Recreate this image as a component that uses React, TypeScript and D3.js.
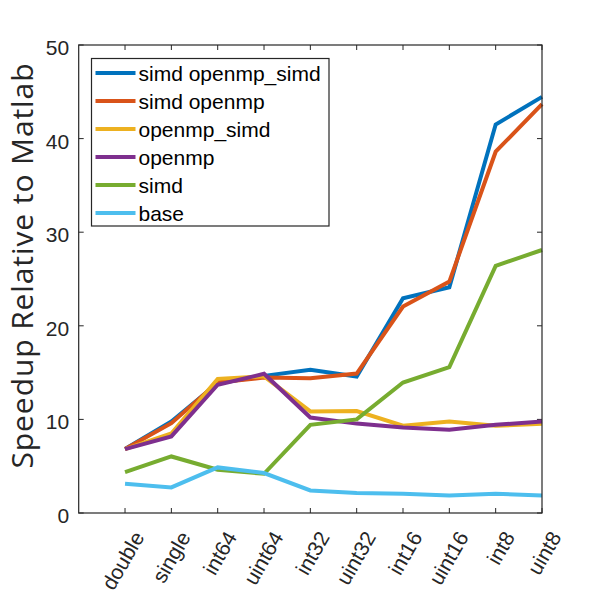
import { useEffect, useRef } from 'react';
import * as d3 from 'd3';

const categories = ['double', 'single', 'int64', 'uint64', 'int32', 'uint32', 'int16', 'uint16', 'int8', 'uint8'];

const seriesNames = ['simd openmp_simd', 'simd openmp', 'openmp_simd', 'openmp', 'simd', 'base'];

const simdOpenmpSimd = [6.83, 9.78, 13.87, 14.65, 15.3, 14.58, 22.94, 24.12, 41.5, 44.46];
const simdOpenmp = [6.83, 9.6, 13.94, 14.47, 14.4, 14.9, 22.05, 24.72, 38.6, 43.68];
const openmpSimd = [6.83, 8.5, 14.33, 14.6, 10.85, 10.9, 9.32, 9.78, 9.32, 9.53];
const openmp = [6.83, 8.18, 13.7, 14.87, 10.2, 9.55, 9.14, 8.89, 9.42, 9.78];
const simd = [4.37, 6.04, 4.62, 4.19, 9.42, 10.0, 13.94, 15.58, 26.4, 28.1];
const base = [3.13, 2.73, 4.87, 4.27, 2.41, 2.13, 2.06, 1.88, 2.06, 1.88];

const yTicks = [0, 10, 20, 30, 40, 50];

const colors = ['#0072BD', '#D95319', '#EDB120', '#7E2F8E', '#77AC30', '#4DBEEE'];

const ChartSvg = () => {
  const ref = useRef<SVGSVGElement | null>(null);

  useEffect(() => {
    if (!ref.current) return;
    const width = 600;
    const height = 600;
    const svg = d3.select(ref.current);
    svg.selectAll('*').remove();
    svg.attr('width', width).attr('height', height).attr('viewBox', `0 0 ${width} ${height}`);

    const margin = { top: 45, right: 58, bottom: 87, left: 78.7 };
    const innerWidth = width - margin.left - margin.right;
    const innerHeight = height - margin.top - margin.bottom;
    const axisColor = '#262626';
    const tickFont = '"Liberation Sans", Arial, sans-serif';

    const g = svg.append('g').attr('transform', `translate(${margin.left},${margin.top})`);

    const x = d3.scaleLinear().domain([0, categories.length]).range([0, innerWidth]);
    const y = d3.scaleLinear().domain([0, 50]).range([innerHeight, 0]);

    const allSeries = [simdOpenmpSimd, simdOpenmp, openmpSimd, openmp, simd, base];

    const line = d3
      .line<number>()
      .x((_, i) => x(i + 1))
      .y((d) => y(d));

    g.append('rect')
      .attr('width', innerWidth)
      .attr('height', innerHeight)
      .attr('fill', '#fff');

    // ticks, inward on all four sides
    const tickLen = 5;
    categories.forEach((_, i) => {
      const px = x(i + 1);
      g.append('line').attr('x1', px).attr('x2', px).attr('y1', innerHeight).attr('y2', innerHeight - tickLen).attr('stroke', axisColor);
      g.append('line').attr('x1', px).attr('x2', px).attr('y1', 0).attr('y2', tickLen).attr('stroke', axisColor);
    });
    yTicks.forEach((t) => {
      const py = y(t);
      g.append('line').attr('x1', 0).attr('x2', tickLen).attr('y1', py).attr('y2', py).attr('stroke', axisColor);
      g.append('line').attr('x1', innerWidth).attr('x2', innerWidth - tickLen).attr('y1', py).attr('y2', py).attr('stroke', axisColor);
      g.append('text')
        .attr('x', -9.5)
        .attr('y', py + 10)
        .attr('text-anchor', 'end')
        .attr('font-family', tickFont)
        .attr('font-size', 21)
        .attr('fill', axisColor)
        .text(t);
    });

    categories.forEach((c, i) => {
      const ax = x(i + 1) + 20;
      const ay = innerHeight + 24;
      g.append('text')
        .attr('transform', `translate(${ax},${ay}) rotate(-60)`)
        .attr('text-anchor', 'end')
        .attr('font-family', tickFont)
        .attr('font-size', 21)
        .attr('fill', axisColor)
        .text(c);
    });

    allSeries.forEach((s, i) => {
      g.append('path')
        .attr('d', line(s) ?? '')
        .attr('fill', 'none')
        .attr('stroke', colors[i])
        .attr('stroke-width', 4)
        .attr('stroke-linejoin', 'miter');
    });

    g.append('rect')
      .attr('width', innerWidth)
      .attr('height', innerHeight)
      .attr('fill', 'none')
      .attr('stroke', axisColor)
      .attr('stroke-width', 1.2);

    // y label
    svg
      .append('text')
      .attr('transform', `translate(33,266) rotate(-90)`)
      .attr('text-anchor', 'middle')
      .attr('font-family', '"Open Sans", sans-serif')
      .attr('font-size', 30)
      .attr('textLength', 405)
      .attr('lengthAdjust', 'spacing')
      .attr('fill', axisColor)
      .text('Speedup Relative to Matlab');

    // legend
    const legend = svg.append('g').attr('transform', 'translate(91.5,58.5)');
    legend
      .append('rect')
      .attr('width', 237.5)
      .attr('height', 167.5)
      .attr('fill', '#fff')
      .attr('stroke', axisColor)
      .attr('stroke-width', 1.2);
    seriesNames.forEach((name, i) => {
      const cy = 14.5 + i * 28;
      legend.append('line').attr('x1', 4).attr('x2', 44).attr('y1', cy).attr('y2', cy).attr('stroke', colors[i]).attr('stroke-width', 4);
      legend
        .append('text')
        .attr('x', 47)
        .attr('y', cy + 7.5)
        .attr('font-family', tickFont)
        .attr('font-size', 21)
        .attr('fill', '#000')
        .text(name);
    });
  }, []);

  return <svg ref={ref} style={{ position: 'absolute', left: 0, top: 0 }} role="img" aria-label="Speedup chart" />;
};

const App = () => <ChartSvg />;

export default App;
